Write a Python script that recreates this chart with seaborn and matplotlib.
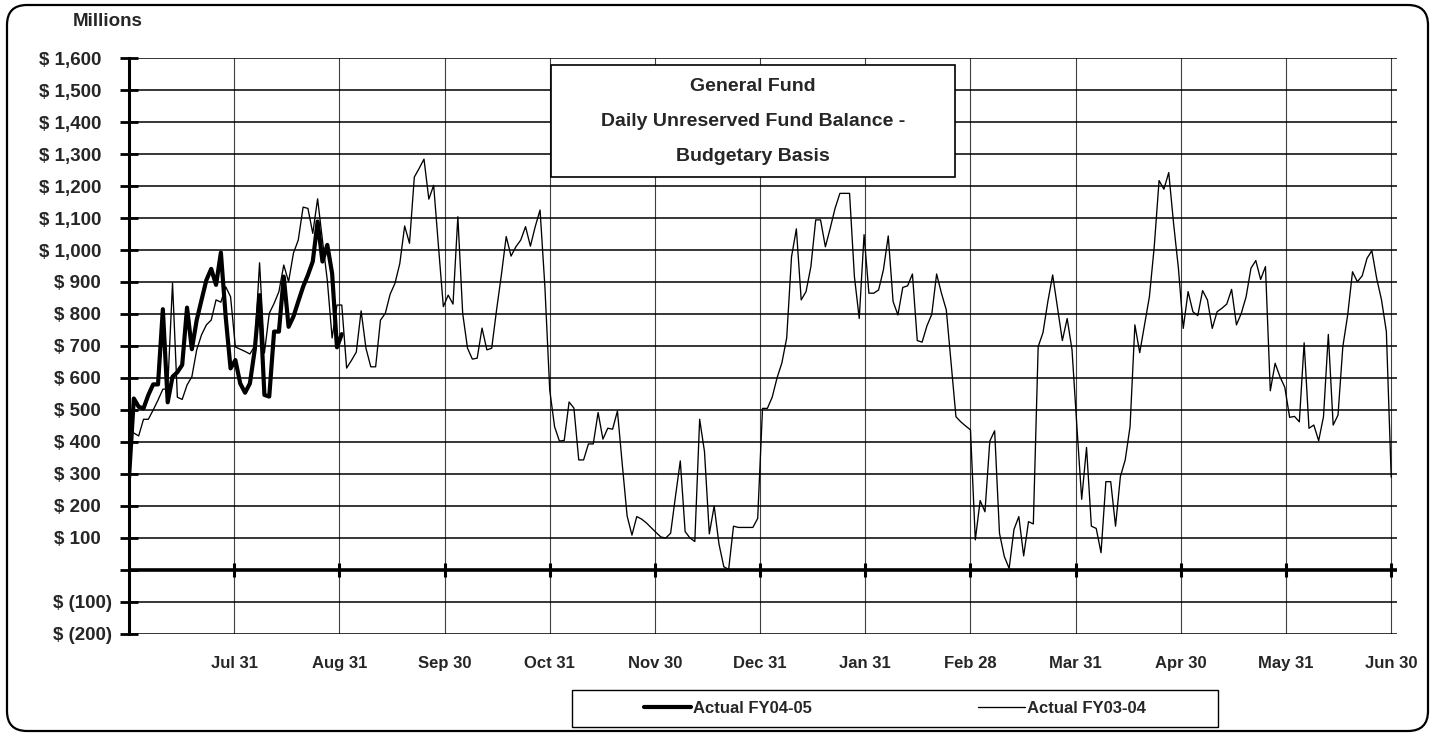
import numpy as np
import matplotlib.pyplot as plt
import seaborn as sns
from matplotlib.patches import FancyBboxPatch, Rectangle
from matplotlib.ticker import FuncFormatter

# -----------------------------
# data (daily balances, $ millions, one value per business day)
# -----------------------------
month_labels = ["Jul 31", "Aug 31", "Sep 30", "Oct 31", "Nov 30", "Dec 31",
                "Jan 31", "Feb 28", "Mar 31", "Apr 30", "May 31", "Jun 30"]

fy0405_balance = [
    287, 536, 510, 505, 547, 580, 580, 815, 524, 604, 618, 641, 820, 690, 781,
    844, 906, 941, 891, 992, 790, 630, 656, 583, 554, 583, 688, 859, 547, 542,
    745, 745, 917, 760, 792, 839, 885, 922, 964, 1089, 964, 1016, 927, 696, 737,
]

fy0304_balance = [
    # Jul
    430, 428, 419, 471, 471, 500, 531, 565, 566, 897, 540, 533, 578, 604, 688,
    735, 766, 781, 844, 837, 885, 854,
    # Aug
    697, 690, 683, 675, 700, 960, 678, 802, 833, 870, 953, 901, 990, 1031, 1134,
    1130, 1052, 1160, 1031, 906, 725, 828,
    # Sep
    828, 631, 655, 681, 810, 693, 635, 635, 781, 802, 862, 896, 958, 1075, 1021,
    1228, 1255, 1284, 1159, 1202, 1010, 823,
    # Oct
    859, 831, 1104, 802, 693, 659, 662, 756, 688, 693, 812, 922, 1042, 981, 1010,
    1031, 1073, 1012, 1073, 1125, 885, 562,
    # Nov
    448, 403, 405, 525, 506, 344, 344, 394, 394, 492, 409, 443, 440, 497, 330,
    169, 109, 167, 159, 147, 132,
    # Dec
    117, 103, 100, 115, 230, 341, 120, 100, 89, 471, 370, 113, 200, 81, 10,
    2, 137, 133, 133, 133, 133, 161,
    # Jan
    505, 505, 540, 600, 647, 725, 979, 1066, 844, 870, 948, 1094, 1094, 1010, 1068,
    1130, 1177, 1177, 1177, 917, 786, 1048,
    # Feb
    865, 865, 875, 938, 1044, 839, 797, 883, 888, 925, 717, 712, 763, 799, 925,
    865, 813, 646, 479, 463, 450, 438,
    # Mar
    94, 217, 182, 403, 435, 115, 42, 5, 127, 167, 44, 151, 144, 698, 742,
    839, 922, 820, 717, 786, 688, 450,
    # Apr
    221, 383, 137, 130, 54, 276, 276, 137, 292, 344, 448, 766, 679, 766, 854,
    1010, 1217, 1190, 1242, 1083, 943,
    # May
    755, 870, 807, 795, 873, 844, 755, 807, 818, 831, 877, 766, 802, 854, 943,
    967, 908, 948, 560, 646, 604, 571,
    # Jun
    477, 480, 463, 710, 443, 453, 404, 479, 736, 453, 484, 698, 797, 932, 901,
    919, 974, 998, 911, 844, 745, 290,
]

title_lines = ["General Fund", "Daily Unreserved Fund Balance -", "Budgetary Basis"]


def money(v, pos):
    v = int(round(v))
    if v == 0:
        return ""
    if v < 0:
        return f"$ ({-v:,})"
    return f"$ {v:,}  "


# -----------------------------
# figure
# -----------------------------
sns.set_style("white")
plt.rcParams["font.family"] = ["Liberation Sans", "DejaVu Sans"]
plt.rcParams["font.weight"] = "bold"

W, H = 1435, 734
fig = plt.figure(figsize=(W / 100, H / 100), dpi=100)
ax = fig.add_axes([129 / W, 1 - 634 / H, (1397 - 129) / W, (634 - 58) / H])

n_days = len(fy0304_balance) - 1
sns.lineplot(x=np.arange(len(fy0304_balance)), y=fy0304_balance, ax=ax,
             color="black", linewidth=0.95, label="Actual FY03-04", zorder=3)
sns.lineplot(x=np.arange(len(fy0405_balance)), y=fy0405_balance, ax=ax,
             color="black", linewidth=3.0, label="Actual FY04-05", zorder=4)
handles, labels = ax.get_legend_handles_labels()
ax.get_legend().remove()

month_pos = np.linspace(0, n_days, len(month_labels) + 1)[1:]

ax.set_xlim(0, n_days + 1.2)
ax.set_ylim(-200, 1600)
ax.set_yticks(np.arange(-200, 1601, 100))
ax.yaxis.set_major_formatter(FuncFormatter(money))
ax.set_xticks(month_pos)
ax.set_xticklabels(month_labels)
ax.set_xlabel("")
ax.set_ylabel("")

ax.set_axisbelow(True)
ax.grid(axis="y", color="black", linewidth=1.1)
ax.grid(axis="x", color="#404040", linewidth=0.8)

# heavy zero line with month tick marks
ax.axhline(0, color="black", linewidth=2.6, zorder=2.5)
ax.plot(month_pos, np.zeros_like(month_pos), ls="none", marker="|",
        markersize=10, markeredgewidth=2.2, color="black", zorder=2.6)

for s in ["top", "right", "bottom"]:
    ax.spines[s].set_visible(False)
ax.spines["left"].set_linewidth(2.2)
ax.spines["left"].set_color("black")

ax.tick_params(axis="y", direction="inout", length=13, width=2.0, color="black",
               labelsize=13.5, pad=6, left=True)
ax.tick_params(axis="x", length=0, labelsize=12, pad=16)

fig.text(108 / W, 1 - 22 / H, "Millions", ha="center", va="center", fontsize=13.5)

# title box
fig.add_artist(Rectangle((551 / 100, (H - 177) / 100), 404 / 100, 112 / 100,
                         transform=fig.dpi_scale_trans, facecolor="white",
                         edgecolor="black", linewidth=1.2, zorder=5))
for line, y in zip(title_lines, [86.7, 121, 156.7]):
    fig.text(753 / W, 1 - y / H, line, ha="center", va="center", fontsize=14, zorder=6)

# legend box
fig.add_artist(Rectangle((572 / 100, (H - 727) / 100), 646 / 100, 37 / 100,
                         transform=fig.dpi_scale_trans, facecolor="white",
                         edgecolor="black", linewidth=1.0, zorder=5))
leg = fig.legend(handles[::-1], labels[::-1], loc="center",
                 bbox_to_anchor=(895 / W, 1 - 708.5 / H), ncol=2, frameon=False,
                 fontsize=12, handlelength=2.8, handletextpad=0.1, columnspacing=10.0)
leg.set_zorder(7)

# outer rounded border
fig.add_artist(FancyBboxPatch((0.07, 0.03), 14.21, 7.26,
                              boxstyle="round,pad=0,rounding_size=0.2",
                              transform=fig.dpi_scale_trans, fill=False,
                              edgecolor="black", linewidth=1.6))

fig.savefig("out.png", dpi=100)
